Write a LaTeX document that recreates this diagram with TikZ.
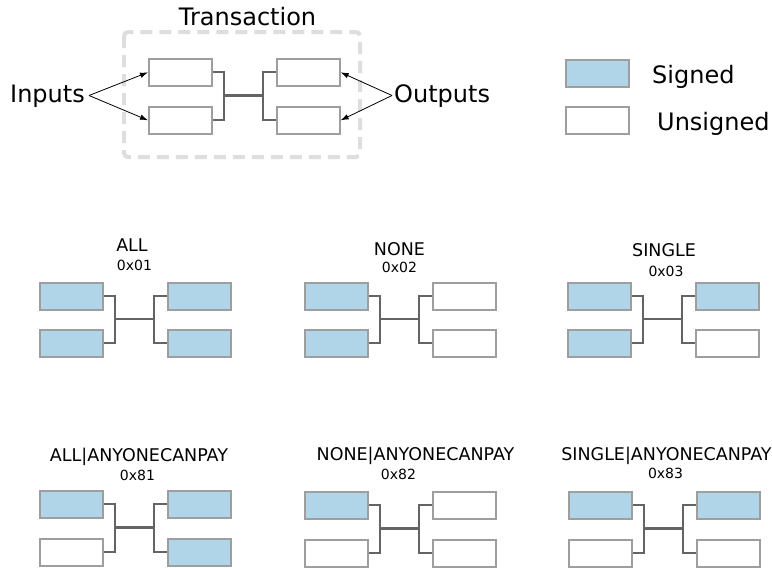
\documentclass[tikz,border=0pt]{standalone}
\usepackage{fontspec}
\setmainfont{DejaVu Sans}
\usetikzlibrary{arrows.meta}

\definecolor{sigblue}{RGB}{176,212,232}
\definecolor{boxedge}{RGB}{158,158,158}
\definecolor{wire}{RGB}{100,100,100}
\definecolor{frame}{RGB}{222,222,222}

\tikzset{
  io/.style={draw=boxedge, line width=1.6pt, rectangle, inner sep=0pt,
             minimum width=63pt, minimum height=27pt, anchor=north west},
  signed/.style={io, fill=sigblue},
  unsigned/.style={io, fill=white},
  conn/.style={draw=wire, line width=2.3pt},
  pointer/.style={draw=black, line width=0.8pt, -{Latex[length=8pt,width=5.5pt]}},
  bigtext/.style={font=\fontsize{24}{28}\selectfont, inner sep=0pt, anchor=base},
  flagtext/.style={font=\fontsize{17.5}{20}\selectfont, inner sep=0pt, anchor=base},
  codetext/.style={font=\fontsize{14}{16}\selectfont, inner sep=0pt, anchor=base},
}

% One transaction: #1 prefix, #2 left x, #3 top y, #4 row spacing,
% #5..#8 styles of input 1, input 2, output 1, output 2
\newcommand\txgroup[8]{%
  \node[#5] (#1i1) at (#2,#3) {};
  \node[#6] (#1i2) at (#2,#3+#4) {};
  \node[#7] (#1o1) at (#2+128,#3) {};
  \node[#8] (#1o2) at (#2+128,#3+#4) {};
  \coordinate (#1jl) at (#2+76,#3+13.5+#4/2);
  \coordinate (#1jr) at (#2+115,#3+13.5+#4/2);
  \draw[conn] (#1i1.east) -| (#1jl) |- (#1i2.east);
  \draw[conn] (#1o1.west) -| (#1jr) |- (#1o2.west);
  \draw[conn] (#1jl) -- (#1jr);
}

\begin{document}
\begin{tikzpicture}[x=1pt,y=-1pt]
  \useasboundingbox (0,0) rectangle (772,568);
  \fill[white] (0,0) rectangle (772,568);

  % overview of a transaction
  \draw[frame, line width=4pt, dash pattern=on 12pt off 7pt, rounded corners=4pt]
    (124,32) rectangle (360,157);
  \node[bigtext] (title) at (247.5,25) {Transaction};
  \txgroup{t}{148}{58}{48}{unsigned}{unsigned}{unsigned}{unsigned}

  \node[bigtext, anchor=base west] (inputs) at (10,102) {Inputs};
  \node[bigtext, anchor=base west] (outputs) at (394,102) {Outputs};
  \coordinate (inref) at (89,95.5);
  \coordinate (outref) at (392,95.5);
  \draw[pointer] (inref) -- (ti1.west);
  \draw[pointer] (inref) -- (ti2.west);
  \draw[pointer] (outref) -- (to1.east);
  \draw[pointer] (outref) -- (to2.east);

  % legend
  \node[signed] (keysig) at (565,59) {};
  \node[unsigned] (keyuns) at (565,106) {};
  \node[bigtext, anchor=base west] (keysiglbl) at (652,83) {Signed};
  \node[bigtext, anchor=base west] (keyunslbl) at (657,130) {Unsigned};

  % SIGHASH types
  \node[flagtext] (allname) at (132,251) {ALL};
  \node[codetext] (allcode) at (134.5,270) {0x01};
  \txgroup{a}{39}{282}{47}{signed}{signed}{signed}{signed}

  \node[flagtext] (nonename) at (399.5,255) {NONE};
  \node[codetext] (nonecode) at (399.5,272) {0x02};
  \txgroup{n}{304}{282}{47}{signed}{signed}{unsigned}{unsigned}

  \node[flagtext] (singlename) at (664,256.5) {SINGLE};
  \node[codetext] (singlecode) at (666,276.5) {0x03};
  \txgroup{s}{567}{282}{47}{signed}{signed}{signed}{unsigned}

  \node[flagtext] (allacpname) at (139,461.5) {ALL|ANYONECANPAY};
  \node[codetext] (allacpcode) at (137.5,480) {0x81};
  \txgroup{aa}{39}{490}{48}{signed}{unsigned}{signed}{signed}

  \node[flagtext] (noneacpname) at (415.5,460.5) {NONE|ANYONECANPAY};
  \node[codetext] (noneacpcode) at (398.5,479) {0x82};
  \txgroup{na}{304}{491}{48}{signed}{unsigned}{unsigned}{unsigned}

  \node[flagtext] (singleacpname) at (666.5,460) {SINGLE|ANYONECANPAY};
  \node[codetext] (singleacpcode) at (665.5,478) {0x83};
  \txgroup{sa}{568}{491}{48}{signed}{unsigned}{signed}{unsigned}
\end{tikzpicture}
\end{document}
